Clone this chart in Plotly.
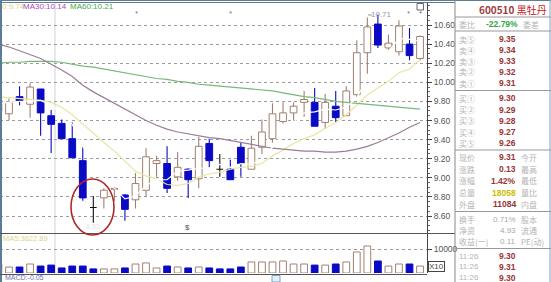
import plotly.graph_objects as go

W, H = 551, 282

# ---------------- data ----------------
idx = list(range(-1, 40))
opens = [9.70, 9.67, 9.85, 9.77, 9.93, 9.65, 9.57, 9.41, 9.18, 8.69, 8.79, 8.88, 8.82, 8.77, 8.87,
         9.15, 9.15, 9.01, 9.09, 8.99, 9.36, 9.09, 9.09, 9.32, 9.09, 9.32, 9.41, 9.59, 9.68, 9.79,
         9.79, 9.58, 9.75, 9.65, 9.87, 10.31, 10.61, 10.36, 10.32, 10.40, 10.25]
highs = [9.84, 9.83, 9.96, 9.99, 9.93, 9.71, 9.61, 9.58, 9.32, 8.81, 8.89, 8.90, 8.83, 9.05, 9.31,
         9.23, 9.33, 9.27, 9.10, 9.43, 9.41, 9.25, 9.19, 9.37, 9.44, 9.61, 9.78, 9.79, 9.79, 9.91,
         9.94, 9.88, 9.91, 9.96, 10.44, 10.68, 10.71, 10.50, 10.65, 10.57, 10.49]
lows = [9.66, 9.60, 9.76, 9.63, 9.44, 9.26, 9.41, 9.21, 8.76, 8.53, 8.68, 8.76, 8.55, 8.68, 8.80,
        9.01, 8.84, 8.97, 8.79, 8.89, 9.11, 9.01, 8.98, 9.01, 9.09, 9.25, 9.37, 9.57, 9.60, 9.64,
        9.54, 9.51, 9.58, 9.65, 9.84, 10.09, 10.36, 10.34, 10.28, 10.23, 10.23]
closes = [9.81, 9.79, 9.80, 9.95, 9.68, 9.56, 9.41, 9.21, 8.79, 8.69, 8.87, 8.89, 8.67, 8.94, 9.22,
          9.18, 8.89, 9.11, 8.98, 9.33, 9.18, 9.09, 8.98, 9.15, 9.31, 9.48, 9.67, 9.68, 9.75, 9.82,
          9.54, 9.79, 9.63, 9.91, 10.31, 10.58, 10.39, 10.41, 10.59, 10.28, 10.48]
volumes = [3750, 2500, 2500, 3750, 2900, 3300, 2100, 2900, 2900, 1700, 1700, 1700, 2100, 3750, 4200,
           2100, 2900, 2500, 2100, 2500, 2100, 1700, 1700, 2500, 4600, 4600, 4600, 5000, 3750, 3750,
           3300, 3300, 3750, 4600, 8750, 11250, 5000, 2900, 3750, 3750, 2900]
ma5 = [9.78, 9.79, 9.80, 9.80, 9.81, 9.76, 9.68, 9.56, 9.33, 9.13, 8.99, 8.89, 8.78, 8.81, 8.92,
       8.98, 8.98, 9.07, 9.08, 9.10, 9.10, 9.14, 9.11, 9.15, 9.14, 9.20, 9.32, 9.46, 9.58, 9.68,
       9.69, 9.72, 9.71, 9.74, 9.84, 10.04, 10.16, 10.32, 10.46, 10.45, 10.43]
ma10 = [9.85, 9.84, 9.83, 9.82, 9.81, 9.79, 9.74, 9.66, 9.56, 9.47, 9.37, 9.28, 9.17, 9.07, 9.02,
        8.99, 8.93, 8.92, 8.94, 9.01, 9.04, 9.06, 9.09, 9.11, 9.12, 9.15, 9.23, 9.29, 9.36, 9.41,
        9.45, 9.52, 9.58, 9.66, 9.76, 9.87, 9.94, 10.01, 10.10, 10.14, 10.24]
ma30 = [10.40, 10.37, 10.33, 10.29, 10.25, 10.19, 10.13, 10.06, 9.97, 9.90, 9.84, 9.78, 9.72, 9.66, 9.60,
        9.55, 9.51, 9.48, 9.46, 9.44, 9.42, 9.41, 9.39, 9.37, 9.35, 9.33, 9.31, 9.30, 9.29, 9.28,
        9.28, 9.27, 9.27, 9.28, 9.30, 9.33, 9.37, 9.42, 9.47, 9.53, 9.58]
ma60 = [10.20, 10.21, 10.21, 10.22, 10.22, 10.22, 10.21, 10.19, 10.17, 10.16, 10.14, 10.12, 10.10, 10.08, 10.06,
        10.04, 10.03, 10.01, 10.00, 9.98, 9.97, 9.96, 9.95, 9.94, 9.93, 9.92, 9.91, 9.89, 9.87, 9.85,
        9.84, 9.82, 9.80, 9.79, 9.78, 9.77, 9.76, 9.75, 9.74, 9.73, 9.72]
price_ticks = [10.60, 10.40, 10.20, 10.00, 9.80, 9.60, 9.40, 9.20, 9.00, 8.80, 8.60]
price_tick_labels = ["10.60", "10.40", "10.20", "10.00", "9.80", "9.60", "9.40", "9.20", "9.00", "8.80", "8.60"]
vol_ticks = [10000]
vol_tick_labels = ["10000"]

stock_code = "600510"
stock_name = "黑牡丹"
weibi = "-22.79%"
ask_labels = ["卖⑤", "卖④", "卖③", "卖②", "卖①"]
ask_prices = ["9.35", "9.34", "9.33", "9.32", "9.31"]
bid_labels = ["买①", "买②", "买③", "买④", "买⑤"]
bid_prices = ["9.30", "9.29", "9.28", "9.27", "9.26"]
quote_left = ["现价", "涨跌", "涨幅", "总量", "外盘"]
quote_vals = ["9.31", "0.13", "1.42%", "18058", "11084"]
quote_right = ["今开", "最高", "最低", "量比", "内盘"]
fin_left = ["换手", "净资", "收益(一)"]
fin_vals = ["0.71%", "4.93", "0.11"]
fin_right = ["股本", "流通", "PE(动)"]
tick_times = ["11:26", "11:26", "11:26"]
tick_prices = ["9.30", "9.31", "9.30"]

# ---------------- style ----------------
UP = "#a08072"
DN = "#0a0ac4"
DOJI = "#111111"
BW = 0.64  # body / volume bar width in day units
FONT = "Liberation Sans, Noto Sans CJK SC, sans-serif"
CJK = "Noto Sans CJK SC, Liberation Sans, sans-serif"


def px(x):
    return x / W


def py(y):
    return 1 - y / H


kind = ["doji" if c == o else ("up" if c > o else "dn") for o, c in zip(opens, closes)]

fig = go.Figure()

# wicks (drawn only outside the body so hollow bodies stay white)
for k_name, col in [("up", UP), ("dn", DN), ("doji", DOJI)]:
    wx, wy = [], []
    for i, o, h, l, c, kd in zip(idx, opens, highs, lows, closes, kind):
        if kd != k_name:
            continue
        top, bot = max(o, c), min(o, c)
        wx += [i, i, None, i, i, None]
        wy += [h, top, None, bot, l, None]
        if kd == "doji":
            wx += [i - BW / 2, i + BW / 2, None]
            wy += [o, c, None]
    fig.add_trace(go.Scatter(x=wx, y=wy, mode="lines", line=dict(color=col, width=1.1),
                             showlegend=False, hoverinfo="skip", xaxis="x", yaxis="y"))

# bodies
body_ids = [k for k, kd in enumerate(kind) if kd != "doji"]
fig.add_trace(go.Bar(
    x=[idx[k] for k in body_ids],
    y=[abs(closes[k] - opens[k]) for k in body_ids],
    base=[min(opens[k], closes[k]) for k in body_ids],
    width=BW,
    marker=dict(color=["white" if kind[k] == "up" else DN for k in body_ids],
                line=dict(color=[UP if kind[k] == "up" else DN for k in body_ids], width=1)),
    showlegend=False, hoverinfo="skip", xaxis="x", yaxis="y"))

for vals, col in [(ma10, "#e8e6a4"), (ma60, "#78b878"), (ma30, "#9a7c98"), (ma5, "#ffffff")]:
    fig.add_trace(go.Scatter(x=idx, y=vals, mode="lines", line=dict(color=col, width=1.2),
                             showlegend=False, hoverinfo="skip", xaxis="x", yaxis="y"))

fig.add_trace(go.Bar(
    x=idx, y=volumes, width=BW,
    marker=dict(color=["white" if kd == "up" else DN for kd in kind],
                line=dict(color=[UP if kd == "up" else DN for kd in kind], width=1)),
    showlegend=False, hoverinfo="skip", xaxis="x2", yaxis="y2"))

XR = [-0.854, 39.66]
fig.update_layout(
    width=W, height=H, margin=dict(l=0, r=0, t=0, b=0),
    paper_bgcolor="white", plot_bgcolor="white", barmode="overlay",
    font=dict(family=FONT, size=9, color="#555"),
    xaxis=dict(domain=[0, px(427)], range=XR, anchor="y", visible=False, fixedrange=True),
    xaxis2=dict(domain=[0, px(427)], range=XR, anchor="y2", visible=False, matches="x"),
    yaxis=dict(domain=[py(233.5), py(2)], range=[8.417, 10.841], side="right", anchor="x",
               tickvals=price_ticks, ticktext=price_tick_labels,
               showgrid=True, gridcolor="#9c9c9c", griddash="dot", gridwidth=1,
               ticks="outside", ticklen=4, tickcolor="#444", showline=True, linecolor="#444",
               linewidth=1, zeroline=False, tickfont=dict(size=8.5, color="#555", family=FONT),
               minor=dict(dtick=0.05, tick0=8.6, ticks="outside", ticklen=2, tickcolor="#666",
                          showgrid=False)),
    yaxis2=dict(domain=[py(273), py(234)], range=[0, 16250], side="right", anchor="x2",
                tickvals=vol_ticks, ticktext=vol_tick_labels,
                showgrid=True, gridcolor="#9c9c9c", griddash="dot",
                ticks="outside", ticklen=4, tickcolor="#444", showline=True, linecolor="#444",
                zeroline=False, tickfont=dict(size=8.5, color="#555", family=FONT)),
)

shapes = []


def line(x0, y0, x1, y1, color, width=1, layer="above"):
    shapes.append(dict(type="line", xref="paper", yref="paper", x0=px(x0), y0=py(y0),
                       x1=px(x1), y1=py(y1), line=dict(color=color, width=width), layer=layer))


line(55, 3, 55, 274, "#d2d2d2", 1, layer="below")       # crosshair
line(0, 2.5, 455, 2.5, "#5d7c98", 1)                    # top border
line(1, 0, 1, 282, "#5d7c98", 2)                        # left frame
line(0, 0.5, 551, 0.5, "#5d7c98", 1)
line(0, 233.5, 455, 233.5, "#555", 1)                   # panel separator
line(0, 274.5, 427, 274.5, "#555", 1)                   # bottom
line(455, 0, 455, 282, "#888", 1)                       # right panel separator
for yy in [17, 31, 90.5, 150, 211.5, 248.5]:
    line(455, yy, 551, yy, "#999", 1)
line(550, 0, 550, 282, "#7ea0c0", 1)

# red hand-drawn ellipse
shapes.append(dict(type="circle", xref="paper", yref="paper", x0=px(71), x1=px(114),
                   y0=py(235), y1=py(179), line=dict(color="#b0282a", width=1.6)))
# small icon box top-right of chart
shapes.append(dict(type="rect", xref="paper", yref="paper", x0=px(417), x1=px(423.5),
                   y0=py(10), y1=py(3.5), line=dict(color="#666", width=1), fillcolor="white"))
# tab at bottom
shapes.append(dict(type="rect", xref="paper", yref="paper", x0=px(272), x1=px(280),
                   y0=py(282), y1=py(275.5), line=dict(color="#7aa4cc", width=1), fillcolor="#e4f0fa"))
# high marker bracket
shapes.append(dict(type="line", xref="x", yref="y", x0=idx[36] - 0.95, x1=idx[36] - 0.55,
                   y0=highs[36] - 0.005, y1=highs[36] - 0.005, line=dict(color="#999", width=1)))
fig.update_layout(shapes=shapes)

ann = []


def txt(x, y, s, color="#999", size=9, anchor="left", family=FONT, xref="paper", yref="paper", **kw):
    d = dict(x=px(x) if xref == "paper" else x, y=py(y) if yref == "paper" else y,
             xref=xref, yref=yref, text=s, showarrow=False, xanchor=anchor, yanchor="middle",
             font=dict(size=size, color=color, family=family), borderpad=0)
    d.update(kw)
    ann.append(d)


# MA label row
txt(1, 7, "0:9.74", "#dcd48a", 8)
txt(22, 7, "MA30:10.14", "#b048b0", 8)
txt(69, 7, "MA60:10.21", "#4aa84a", 8)
# volume label and MACD
txt(2, 238, "MA5:3622.89", "#dcd48a", 7.5)
txt(4, 277.5, "MACD:-0.05", "#7070b8", 7)
# high / low labels
txt(idx[36] + 0.3, highs[36] - 0.005, "10.71", "#9a9a9a", 8, anchor="center", xref="x", yref="y")
txt(idx[9], 8.49, "8.53", "#e4e4e4", 7, anchor="center", xref="x", yref="y")
txt(187, 228, "$", "#555", 8, anchor="center")
for xx in [136, 230, 408, 420]:
    txt(xx, 14, "*", "#777", 8, anchor="center")
txt(428, 266.5, "X10", "#444", 8, bordercolor="#444", borderwidth=1)

# right quote panel
txt(513, 9.5, "<b>" + stock_code + "</b> <span style='color:#c42020'>" + stock_name + "</span>",
    "#9c3c3c", 10, anchor="center", family=CJK)
txt(458, 24, "委比", "#b4b4b4", 8, family=CJK)
txt(519, 24, "<b>" + weibi + "</b>", "#2fa83a", 8.5, anchor="right")
txt(522, 24, "委差", "#b4b4b4", 8, family=CJK)
for k in range(5):
    yy = 39 + 11 * k
    txt(458, yy, ask_labels[k], "#b4b4b4", 8, family=CJK)
    txt(517, yy, "<b>" + ask_prices[k] + "</b>", "#9a3434", 8.5, anchor="right")
for k in range(5):
    yy = 98.5 + 11.2 * k
    txt(458, yy, bid_labels[k], "#b4b4b4", 8, family=CJK)
    txt(517, yy, "<b>" + bid_prices[k] + "</b>", "#9a3434", 8.5, anchor="right")
qcolors = ["#9a3434", "#9a3434", "#9a3434", "#c8c000", "#9a3434"]
for k in range(5):
    yy = 157.5 + 11.7 * k
    txt(458, yy, quote_left[k], "#b4b4b4", 8, family=CJK)
    txt(517, yy, "<b>" + quote_vals[k] + "</b>", qcolors[k], 8.5, anchor="right")
    txt(520, yy, quote_right[k], "#b4b4b4", 8, family=CJK)
for k in range(3):
    yy = 219 + 11 * k
    txt(458, yy, fin_left[k], "#b4b4b4", 8, family=CJK)
    txt(517, yy, fin_vals[k], "#a8a8a8", 8, anchor="right")
    txt(520, yy, fin_right[k], "#b4b4b4", 8, family=CJK)
for k in range(3):
    yy = 256 + 10.8 * k
    txt(458, yy, tick_times[k], "#b4b4b4", 8)
    txt(517, yy, "<b>" + tick_prices[k] + "</b>", "#9a3434", 8.5, anchor="right")

fig.update_layout(annotations=ann)
fig.write_html("out.html")
